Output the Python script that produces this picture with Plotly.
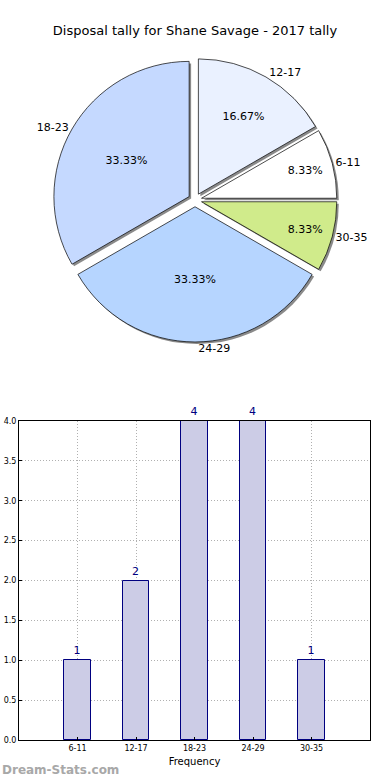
import plotly.graph_objects as go

title = "Disposal tally for Shane Savage - 2017 tally"
pie_labels = ["12-17", "6-11", "30-35", "24-29", "18-23"]
pie_values = [2, 1, 1, 4, 4]
pie_colors = ["#eaf1ff", "#ffffff", "#d0eb8b", "#b6d5ff", "#c5d9ff"]

bar_cats = ["6-11", "12-17", "18-23", "24-29", "30-35"]
bar_vals = [1, 2, 4, 4, 1]
y_ticks = [0, 0.5, 1.0, 1.5, 2.0, 2.5, 3.0, 3.5, 4.0]

W, H = 390, 780
FONT = "DejaVu Sans"

def py(px):
    return 1 - px / H

def px_(x):
    return x / W

pull = [0.05] * len(pie_values)
dom_y = [py(342), py(58)]
dom_x = [px_(20), px_(370)]
sh = 2

fig = go.Figure()
# shadow
fig.add_trace(go.Pie(
    labels=pie_labels, values=pie_values, sort=False, direction="clockwise",
    rotation=0, pull=pull, marker=dict(colors=["#8a8a8a"] * 5, line=dict(width=0)),
    textinfo="none", hoverinfo="skip", showlegend=False,
    domain=dict(x=[dom_x[0] + px_(sh), dom_x[1] + px_(sh)], y=[dom_y[0] - sh / H, dom_y[1] - sh / H]),
))
# main pie
fig.add_trace(go.Pie(
    labels=pie_labels, values=pie_values, sort=False, direction="clockwise",
    rotation=0, pull=pull, marker=dict(colors=pie_colors, line=dict(color="black", width=0.7)),
    texttemplate="%{percent:.2%}", textposition="inside", insidetextorientation="horizontal",
    textfont=dict(family=FONT, size=11, color="black"), showlegend=False,
    domain=dict(x=dom_x, y=dom_y),
))
# outside labels
fig.add_trace(go.Pie(
    labels=pie_labels, values=pie_values, sort=False, direction="clockwise",
    rotation=0, pull=pull, marker=dict(colors=["rgba(0,0,0,0)"] * 5, line=dict(width=0)),
    textinfo="label", textposition="outside",
    textfont=dict(family=FONT, size=11, color="black"), showlegend=False, hoverinfo="skip",
    domain=dict(x=dom_x, y=dom_y),
))

fig.add_trace(go.Bar(
    x=bar_cats, y=bar_vals, width=0.45,
    marker=dict(color="#cccce6", line=dict(color="#000080", width=1)),
    text=[str(v) for v in bar_vals], textposition="outside", cliponaxis=False,
    textfont=dict(family=FONT, size=11, color="#000080"), showlegend=False,
    xaxis="x", yaxis="y",
))

fig.update_layout(
    width=W, height=H, margin=dict(l=0, r=0, t=0, b=0, autoexpand=False),
    paper_bgcolor="white", plot_bgcolor="white",
    font=dict(family=FONT, color="black"),
    title=dict(text=title, x=0.5, xanchor="center", y=py(30), yanchor="middle",
               font=dict(family=FONT, size=13, color="black")),
    xaxis=dict(domain=[px_(19), px_(370)], range=[-1, 5], type="category",
               automargin=False,
               showline=True, mirror=True, linecolor="black", linewidth=1,
               showgrid=True, gridcolor="#b0b0b0", griddash="1px,2px", gridwidth=1,
               ticks="inside", ticklen=3, tickcolor="black",
               tickfont=dict(family=FONT, size=8, color="black"),
               title=dict(text="Frequency", font=dict(family=FONT, size=10, color="black"), standoff=6),
               zeroline=False, fixedrange=True),
    yaxis=dict(domain=[py(740), py(421)], range=[0, 4], tickvals=y_ticks,
               tickformat=".1f", automargin=False,
               showline=True, mirror=True, linecolor="black", linewidth=1,
               showgrid=True, gridcolor="#b0b0b0", griddash="1px,2px", gridwidth=1,
               ticks="inside", ticklen=3, tickcolor="black",
               tickfont=dict(family=FONT, size=8, color="black"),
               zeroline=False, fixedrange=True),
    bargap=0,
    annotations=[dict(text="<b>Dream-Stats.com</b>", x=0, y=py(770), xref="paper", yref="paper",
                      xanchor="left", yanchor="middle", showarrow=False,
                      font=dict(family=FONT, size=12, color="#a8a8a8"))],
)

fig.write_html("out.html", config={"displayModeBar": False},
               post_script="document.body.style.margin='0';document.body.style.overflow='hidden';")
